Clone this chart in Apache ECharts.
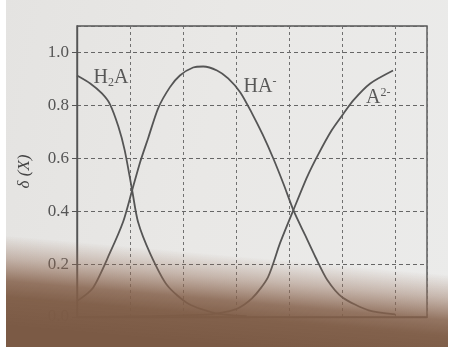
<!DOCTYPE html>
<html>
<head>
<meta charset="utf-8">
<script src="https://cdn.jsdelivr.net/npm/echarts@6/dist/echarts.min.js"></script>
<style>
  html, body { margin: 0; padding: 0; background: #ffffff; }
  #chart {
    width: 455px;
    height: 347px;
    background: linear-gradient(100deg, #e4e3e1 0%, #e9e8e6 45%, #ebebea 100%);
  }
</style>
</head>
<body>
<div id="chart"></div>
<script>
// distribution fraction vs pH
const h2aData = [
  [0, 0.913], [0.25, 0.883], [0.47, 0.845], [0.62, 0.805], [0.78, 0.72],
  [0.9, 0.63], [1.04, 0.479], [1.15, 0.36], [1.38, 0.24], [1.7, 0.12],
  [2.1, 0.05], [2.6, 0.015], [3.2, 0.003]
];
const haData = [
  [0, 0.06], [0.3, 0.11], [0.62, 0.242], [0.87, 0.36], [1.04, 0.479],
  [1.19, 0.585], [1.34, 0.675], [1.53, 0.789], [1.75, 0.868], [1.94, 0.913],
  [2.19, 0.943], [2.38, 0.947], [2.64, 0.932], [2.85, 0.902], [3.08, 0.849],
  [3.3, 0.77], [3.5, 0.69], [3.7, 0.6], [3.9, 0.5], [4.08, 0.404],
  [4.3, 0.31], [4.5, 0.225], [4.72, 0.14], [5.0, 0.075], [5.5, 0.025], [6.0, 0.01]
];
const a2Data = [
  [0, 0], [2.5, 0.01], [3.0, 0.03], [3.3, 0.07], [3.6, 0.15], [3.83, 0.28],
  [4.08, 0.404], [4.34, 0.53], [4.55, 0.615], [4.8, 0.705], [5.0, 0.762],
  [5.21, 0.819], [5.53, 0.883], [5.96, 0.932]
];
// where each species name sits on the plot
const speciesLabels = [
  { text: "H{sub|2}A", coord: [0.64, 0.905] },
  { text: "HA{sup|-}", coord: [3.45, 0.87] },
  { text: "A{sup|2-}", coord: [5.68, 0.83] }
];

const ink = "#444";
const serif = "Liberation Serif";

const chart = echarts.init(document.getElementById("chart"));

const curve = (data) => ({
  type: "line",
  data,
  smooth: 0.25,
  showSymbol: false,
  silent: true,
  lineStyle: { color: "#555", width: 1.8 }
});

const option = {
  backgroundColor: "transparent",
  animation: false,
  grid: {
    left: 77, right: 28, top: 26, bottom: 30,
    show: true, borderColor: "#555", borderWidth: 1.4,
    backgroundColor: "transparent"
  },
  xAxis: {
    type: "value",
    min: 0, max: 6.6, interval: 1,
    axisLine: { lineStyle: { color: "#555", width: 1.4 } },
    axisTick: { show: false },
    axisLabel: { show: false },
    splitLine: { lineStyle: { color: "#707070", type: [3, 3], width: 1 } }
  },
  yAxis: {
    type: "value",
    min: 0, max: 1.1, interval: 0.2,
    name: "δ (X)",
    nameLocation: "middle",
    nameGap: 44,
    nameTextStyle: { fontFamily: serif, fontSize: 17, color: ink, fontStyle: "italic" },
    axisLine: { show: true, lineStyle: { color: "#555", width: 1.4 } },
    axisTick: { show: true, length: 5, lineStyle: { color: "#555" } },
    axisLabel: {
      showMaxLabel: false,
      margin: 8,
      fontFamily: serif, fontSize: 17, color: "#555",
      formatter: (v) => v.toFixed(1)
    },
    splitLine: { lineStyle: { color: "#666", type: [4, 3], width: 1 } }
  },
  series: [
    curve(h2aData),
    curve(haData),
    curve(a2Data),
    {
      type: "scatter",
      silent: true,
      symbolSize: 1,
      itemStyle: { color: "rgba(0,0,0,0)" },
      data: speciesLabels.map((l) => ({ value: l.coord, name: l.text })),
      label: {
        show: true,
        position: "inside",
        formatter: (p) => p.name,
        fontFamily: serif, fontSize: 20, color: "#333",
        rich: {
          sub: { fontFamily: serif, fontSize: 12, color: "#333", padding: [10, 0, 0, 0] },
          sup: { fontFamily: serif, fontSize: 12, color: "#333", padding: [0, 0, 10, 0] }
        }
      }
    }
  ],
  graphic: [
    {
      type: "rect",
      z: 100,
      silent: true,
      shape: { x: 0, y: 225, width: 455, height: 122 },
      style: {
        fill: new echarts.graphic.LinearGradient(0, 235, -8, 325, [
          { offset: 0, color: "rgba(150,110,88,0)" },
          { offset: 0.25, color: "rgba(145,106,84,0.4)" },
          { offset: 0.5, color: "rgba(132,96,74,0.85)" },
          { offset: 0.68, color: "rgba(126,92,70,0.97)" },
          { offset: 1, color: "#7b5a45" }
        ], true)
      }
    },
    {
      type: "rect", z: 101, silent: true,
      shape: { x: 0, y: 0, width: 6, height: 347 },
      style: { fill: "#ffffff" }
    },
    {
      type: "rect", z: 101, silent: true,
      shape: { x: 448, y: 0, width: 7, height: 347 },
      style: { fill: "#ffffff" }
    }
  ]
};

chart.setOption(option);

window.addEventListener("resize", () => {
  chart.resize();
});
</script>
</body>
</html>
